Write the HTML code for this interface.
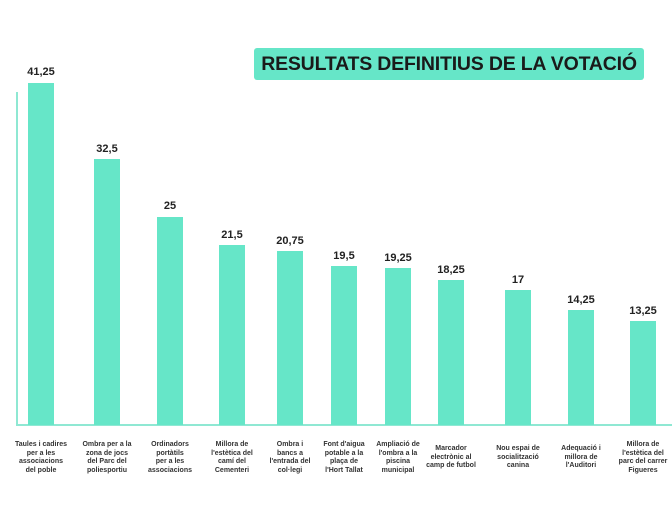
<!DOCTYPE html>
<html><head><meta charset="utf-8"><style>
body{margin:0;width:672px;height:510px;background:#fff;position:relative;overflow:hidden;font-family:"Liberation Sans",sans-serif}
.b{position:absolute;background:#66e6c8;width:26px}
.v{position:absolute;width:60px;text-align:center;font-size:11px;font-weight:bold;color:#222}
.c{position:absolute;width:70px;text-align:center;font-size:7px;line-height:8.5px;font-weight:bold;color:#333;top:441px}
</style></head><body>
<div style="position:absolute;left:254px;top:48px;width:390px;height:32px;background:#66e6c8;border-radius:3px;font-weight:bold;font-size:19.5px;line-height:32px;text-align:center;color:#1a1a1a;letter-spacing:-0.2px">RESULTATS DEFINITIUS DE LA VOTACIÓ</div>
<div style="position:absolute;left:16px;top:92px;width:2px;height:334px;background:#8fe8d3"></div>
<div style="position:absolute;left:16px;top:424px;width:656px;height:2px;background:#8fe8d3"></div>
<div class="b" style="left:28px;top:83px;height:342px"></div><div class="v" style="left:11px;top:66px">41,25</div>
<div class="b" style="left:94px;top:159px;height:266px"></div><div class="v" style="left:77px;top:143px">32,5</div>
<div class="b" style="left:157px;top:217px;height:208px"></div><div class="v" style="left:140px;top:200px">25</div>
<div class="b" style="left:219px;top:245px;height:180px"></div><div class="v" style="left:202px;top:229px">21,5</div>
<div class="b" style="left:277px;top:251px;height:174px"></div><div class="v" style="left:260px;top:235px">20,75</div>
<div class="b" style="left:331px;top:266px;height:159px"></div><div class="v" style="left:314px;top:250px">19,5</div>
<div class="b" style="left:385px;top:268px;height:157px"></div><div class="v" style="left:368px;top:252px">19,25</div>
<div class="b" style="left:438px;top:280px;height:145px"></div><div class="v" style="left:421px;top:264px">18,25</div>
<div class="b" style="left:505px;top:290px;height:135px"></div><div class="v" style="left:488px;top:274px">17</div>
<div class="b" style="left:568px;top:310px;height:115px"></div><div class="v" style="left:551px;top:294px">14,25</div>
<div class="b" style="left:630px;top:321px;height:104px"></div><div class="v" style="left:613px;top:305px">13,25</div>
<div class="c" style="left:6px">Taules i cadires<br>per a les<br>associacions<br>del poble</div>
<div class="c" style="left:72px">Ombra per a la<br>zona de jocs<br>del Parc del<br>poliesportiu</div>
<div class="c" style="left:135px">Ordinadors<br>portàtils<br>per a les<br>associacions</div>
<div class="c" style="left:197px">Millora de<br>l'estètica del<br>camí del<br>Cementeri</div>
<div class="c" style="left:255px">Ombra i<br>bancs a<br>l'entrada del<br>col·legi</div>
<div class="c" style="left:309px">Font d'aigua<br>potable a la<br>plaça de<br>l'Hort Tallat</div>
<div class="c" style="left:363px">Ampliació de<br>l'ombra a la<br>piscina<br>municipal</div>
<div class="c" style="left:416px;top:445px">Marcador<br>electrònic al<br>camp de futbol</div>
<div class="c" style="left:483px;top:445px">Nou espai de<br>socialització<br>canina</div>
<div class="c" style="left:546px;top:445px">Adequació i<br>millora de<br>l'Auditori</div>
<div class="c" style="left:608px">Millora de<br>l'estètica del<br>parc del carrer<br>Figueres</div>
</body></html>
